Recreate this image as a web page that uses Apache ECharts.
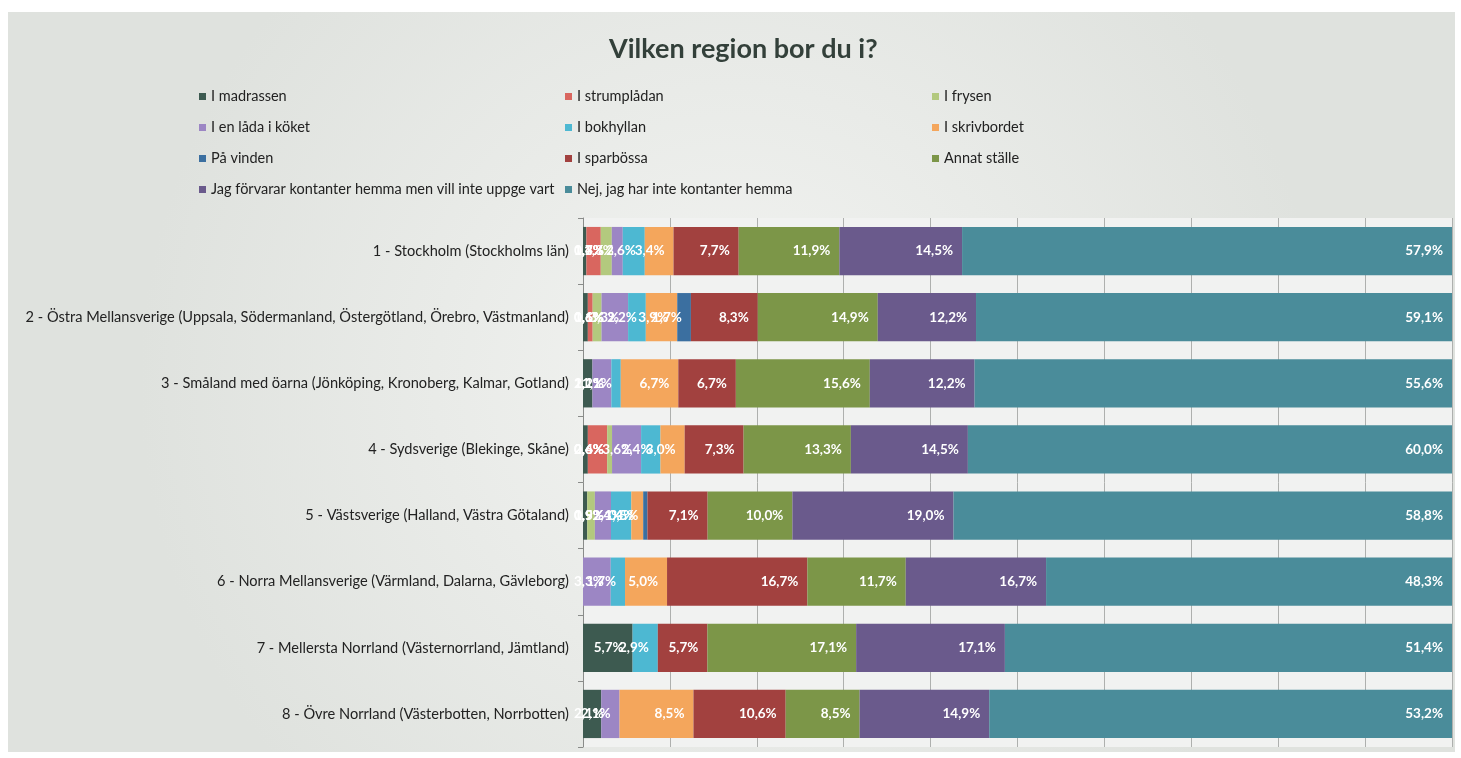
<!DOCTYPE html>
<html>
<head>
<meta charset="utf-8">
<title>Vilken region bor du i?</title>
<script src="https://cdn.jsdelivr.net/npm/echarts@6/dist/echarts.min.js"></script>
<style>
  html, body { margin: 0; padding: 0; background: #ffffff; }
  #chart { width: 1461px; height: 758px; }
</style>
</head>
<body>
<div id="chart"></div>
<script>
  // regioner (uppifrån och ned)
  const regions = [
    '1 - Stockholm (Stockholms län)',
    '2 - Östra Mellansverige (Uppsala, Södermanland, Östergötland, Örebro, Västmanland)',
    '3 - Småland med öarna (Jönköping, Kronoberg, Kalmar, Gotland)',
    '4 - Sydsverige (Blekinge, Skåne)',
    '5 - Västsverige (Halland, Västra Götaland)',
    '6 - Norra Mellansverige (Värmland, Dalarna, Gävleborg)',
    '7 - Mellersta Norrland (Västernorrland, Jämtland)',
    '8 - Övre Norrland (Västerbotten, Norrbotten)'
  ];

  // andel svarande i % per svarsalternativ (flera svar möjliga)
  const madrassen    = [0.4, 0.6, 1.1, 0.6, 0.5, 0, 5.7, 2.1];
  const strumpladan  = [1.7, 0.6, 0, 2.4, 0, 0, 0, 0];
  const frysen       = [1.3, 1.1, 0, 0.6, 0.9, 0, 0, 0];
  const ladaKoket    = [1.3, 3.3, 2.2, 3.6, 1.9, 3.3, 0, 2.1];
  const bokhyllan    = [2.6, 2.2, 1.1, 2.4, 2.4, 1.7, 2.9, 0];
  const skrivbordet  = [3.4, 3.9, 6.7, 3.0, 1.4, 5.0, 0, 8.5];
  const vinden       = [0, 1.7, 0, 0, 0.5, 0, 0, 0];
  const sparbossa    = [7.7, 8.3, 6.7, 7.3, 7.1, 16.7, 5.7, 10.6];
  const annatStalle  = [11.9, 14.9, 15.6, 13.3, 10.0, 11.7, 17.1, 8.5];
  const uppgerInte   = [14.5, 12.2, 12.2, 14.5, 19.0, 16.7, 17.1, 14.9];
  const ingaKontanter = [57.9, 59.1, 55.6, 60.0, 58.8, 48.3, 51.4, 53.2];

  const names = [
    'I madrassen', 'I strumplådan', 'I frysen', 'I en låda i köket', 'I bokhyllan',
    'I skrivbordet', 'På vinden', 'I sparbössa', 'Annat ställe',
    'Jag förvarar kontanter hemma men vill inte uppge vart',
    'Nej, jag har inte kontanter hemma'
  ];
  const values = [madrassen, strumpladan, frysen, ladaKoket, bokhyllan, skrivbordet,
    vinden, sparbossa, annatStalle, uppgerInte, ingaKontanter];
  const colors = ['#3d5a50', '#d9665f', '#b3c97e', '#9c86c4', '#4db8d2', '#f4a65c',
    '#3b6fa0', '#a2413f', '#7c9648', '#6a5a8c', '#4a8c9a'];

  // 100 % staplad: normera varje rad till sin summa
  const totals = regions.map((r, i) => values.reduce((s, v) => s + v[i], 0));

  const font = 'Lato, "Open Sans", sans-serif';

  const series = names.map((name, k) => ({
    name: name,
    type: 'bar',
    stack: 'total',
    barWidth: '73%',
    itemStyle: { color: colors[k] },
    label: {
      show: true,
      position: 'insideRight',
      distance: 9,
      color: '#ffffff',
      fontFamily: font,
      fontWeight: 'bold',
      fontSize: 13.5,
      formatter: (p) => {
        const v = values[k][p.dataIndex];
        return v ? v.toFixed(1).replace('.', ',') + '%' : '';
      }
    },
    // små etiketter får inte gå in över kategorinamnen
    labelLayout: (p) => ({
      x: Math.max(p.labelRect.x, 574),
      y: p.labelRect.y + p.labelRect.height / 2,
      align: 'left',
      verticalAlign: 'middle'
    }),
    data: values[k].map((v, i) => v / totals[i] * 100)
  }));

  const legendBase = {
    orient: 'vertical',
    top: 84,
    icon: 'rect',
    itemWidth: 7,
    itemHeight: 7,
    itemGap: 16,
    textStyle: { fontFamily: font, fontSize: 14.5, color: '#222222' }
  };

  const chart = echarts.init(document.getElementById('chart'));
  chart.setOption({
    backgroundColor: '#ffffff',
    animation: false,
    graphic: [{
      type: 'rect',
      z: -10,
      shape: { x: 8, y: 12, width: 1447, height: 740 },
      style: {
        fill: {
          type: 'radial', x: 0.5, y: 0.5, r: 0.8,
          colorStops: [{ offset: 0, color: '#f3f4f2' }, { offset: 1, color: '#dfe2de' }]
        }
      }
    }],
    title: {
      text: 'Vilken region bor du i?',
      left: 604,
      top: 31,
      textStyle: { fontFamily: font, fontSize: 27, fontWeight: 'bold', color: '#33403a' }
    },
    legend: [
      Object.assign({}, legendBase, { left: 194, data: [names[0], names[3], names[6], names[9]] }),
      Object.assign({}, legendBase, { left: 560, data: [names[1], names[4], names[7], names[10]] }),
      Object.assign({}, legendBase, { left: 927, data: [names[2], names[5], names[8]] })
    ],
    grid: {
      left: 583, right: 9, top: 218, bottom: 11,
      show: true, backgroundColor: '#f1f2f1', borderWidth: 0
    },
    xAxis: {
      type: 'value',
      min: 0, max: 100, interval: 10,
      axisLabel: { show: false },
      axisLine: { show: false },
      axisTick: { show: false },
      splitLine: { lineStyle: { color: '#aeb0ae', width: 1 } }
    },
    yAxis: {
      type: 'category',
      inverse: true,
      data: regions,
      axisLine: { lineStyle: { color: '#8a8c8a' } },
      axisTick: { show: true, length: 5, lineStyle: { color: '#8a8c8a' } },
      axisLabel: { fontFamily: font, fontSize: 14.6, color: '#222222', margin: 14 }
    },
    series: series
  });
</script>
</body>
</html>
